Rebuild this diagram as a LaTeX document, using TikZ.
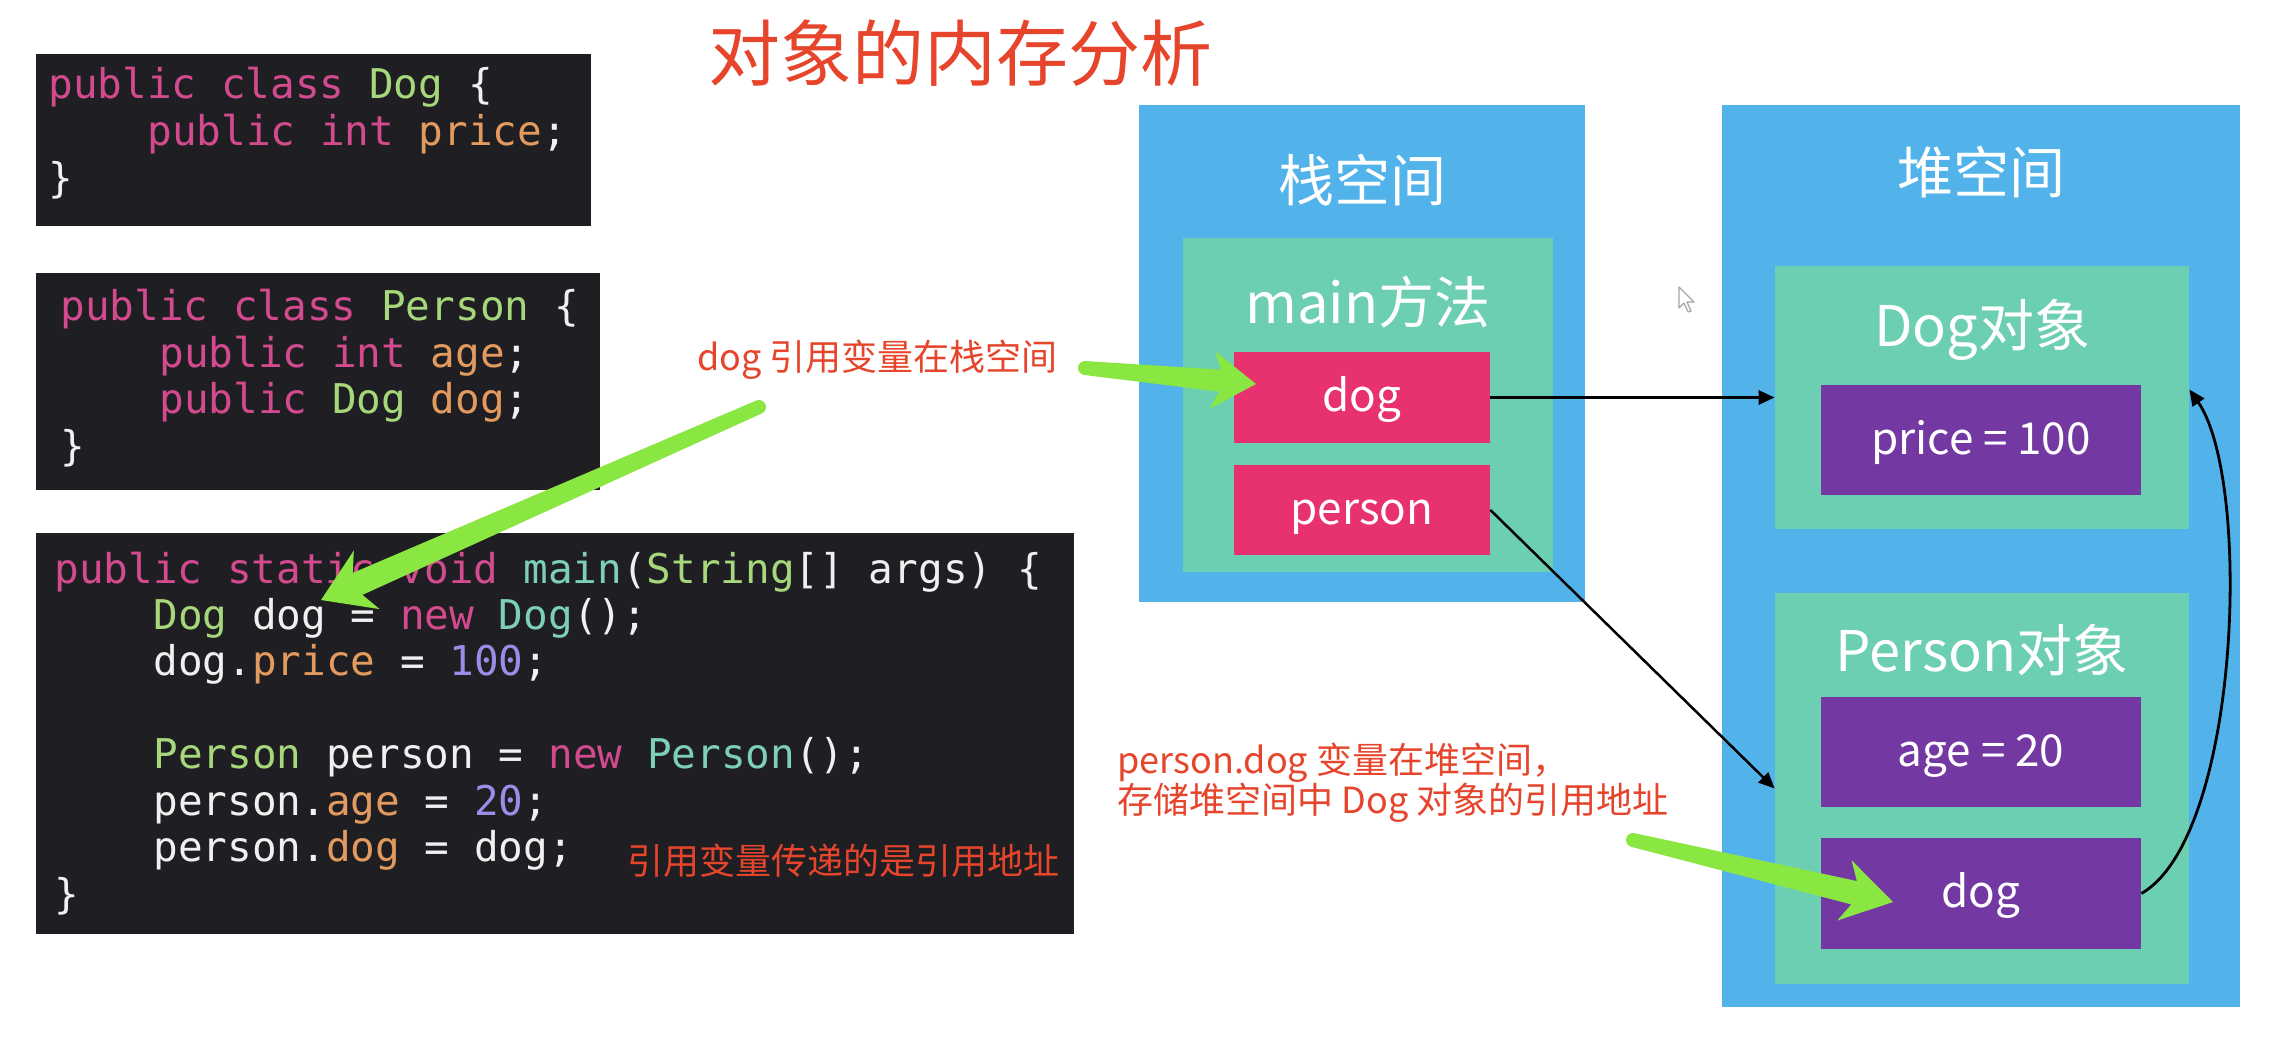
\documentclass[tikz,border=0pt]{standalone}
\usepackage{fontspec}
\usetikzlibrary{calc,arrows.meta}
\setmainfont{Noto Sans CJK SC}
\newfontfamily\cjk{Noto Sans CJK SC}
\newfontfamily\codefont{DejaVu Sans Mono}
\definecolor{cblue}{HTML}{52B3EA}
\definecolor{cgreen}{HTML}{6DCFB2}
\definecolor{cpink}{HTML}{E8316F}
\definecolor{cpurple}{HTML}{7438A3}
\definecolor{cred}{HTML}{E6452C}
\definecolor{cgarrow}{HTML}{8AE640}
\definecolor{ccodebg}{HTML}{1F1F23}
\definecolor{cwhite}{HTML}{F0F0F0}
\definecolor{ckw}{HTML}{D34A8E}
\definecolor{cty}{HTML}{A6D77A}
\definecolor{ctl}{HTML}{7DCFB6}
\definecolor{cfd}{HTML}{E39A5E}
\definecolor{cnm}{HTML}{9C8CE8}
\newcommand\cKw[1]{\textcolor{ckw}{#1}}
\newcommand\cTy[1]{\textcolor{cty}{#1}}
\newcommand\cTl[1]{\textcolor{ctl}{#1}}
\newcommand\cFd[1]{\textcolor{cfd}{#1}}
\newcommand\cNm[1]{\textcolor{cnm}{#1}}
% tapered green arrow: tail, tip, tail half width, neck half width, head length, notch, head half width
\newcommand\garrow[7]{%
  \fill[gfill] let \p1=(#1), \p2=(#2), \n1={atan2(\y2-\y1,\x2-\x1)} in
    ($(#1)+(\n1+90:#3)$)
    -- ($(#2)+(\n1+180:#6)+(\n1+90:#4)$)
    -- ($(#2)+(\n1+180:#5)+(\n1+90:#7)$)
    -- (#2)
    -- ($(#2)+(\n1+180:#5)+(\n1-90:#7)$)
    -- ($(#2)+(\n1+180:#6)+(\n1-90:#4)$)
    -- ($(#1)+(\n1-90:#3)$)
    arc[start angle=\n1-90, end angle=\n1-270, radius=#3] -- cycle;
}
\tikzset{
  box/.style={inner sep=0pt, draw=none},
  itemtxt/.style={text=white, font=\cjk\fontsize{22}{24}\selectfont, text height=1.4em, text depth=0pt},
  ttl/.style={text=white, font=\cjk\fontsize{28}{30}\selectfont, inner sep=0pt},
  codeln/.style={anchor=base west, inner sep=0pt, text=cwhite, font=\codefont\fontsize{20.5}{24}\selectfont},
  redlab/.style={anchor=base west, inner sep=0pt, text=cred, font=\cjk\fontsize{18}{20}\selectfont},
  conn/.style={draw=black, line width=1.5pt, -{Triangle[length=8pt,width=7pt]}},
  gfill/.style={fill=cgarrow},
}
\begin{document}
\begin{tikzpicture}[x=0.5pt, y=-0.5pt]
\path[use as bounding box, fill=white] (0,0) rectangle (2280,1050);

% title
\node[anchor=base, inner sep=0pt, text=cred, font=\cjk\fontsize{36}{40}\selectfont] (title) at (960,80) {对象的内存分析};

% code boxes
\node[box, fill=ccodebg, minimum width=277.5pt, minimum height=86pt] (code1) at (313.5,140) {};
\node[box, fill=ccodebg, minimum width=282pt, minimum height=108.5pt] (code2) at (318,381.5) {};
\node[box, fill=ccodebg, minimum width=519pt, minimum height=200.5pt] (code3) at (555,733.5) {};

\node[codeln] (c1a) at (48,98) {\cKw{public class} \cTy{Dog} \{};
\node[codeln] (c1b) at (147,145) {\cKw{public int} \cFd{price};};
\node[codeln] (c1c) at (48,192) {\}};

\node[codeln] (c2a) at (60,320) {\cKw{public class} \cTy{Person} \{};
\node[codeln] (c2b) at (159,367) {\cKw{public int} \cFd{age};};
\node[codeln] (c2c) at (159,413) {\cKw{public} \cTy{Dog} \cFd{dog};};
\node[codeln] (c2d) at (60,460) {\}};

\node[codeln] (c3a) at (54,583) {\cKw{public static void} \cTl{main}(\cTy{String}[] args) \{};
\node[codeln] (c3b) at (153,629) {\cTy{Dog} dog = \cKw{new} \cTl{Dog}();};
\node[codeln] (c3c) at (153,675) {dog.\cFd{price} = \cNm{100};};
\node[codeln] (c3d) at (153,768) {\cTy{Person} person = \cKw{new} \cTl{Person}();};
\node[codeln] (c3e) at (153,815) {person.\cFd{age} = \cNm{20};};
\node[codeln] (c3f) at (153,861) {person.\cFd{dog} = dog;};
\node[codeln] (c3g) at (54,908) {\}};

% red labels
\node[redlab] (lab1) at (697,370) {dog 引用变量在栈空间};
\node[redlab] (lab2) at (627,874) {引用变量传递的是引用地址};
\node[redlab] (lab3) at (1117,773) {person.dog 变量在堆空间，};
\node[redlab] (lab4) at (1117,813) {存储堆空间中 Dog 对象的引用地址};

% stack
\node[box, fill=cblue, minimum width=223pt, minimum height=248.5pt] (stack) at (1362,353.5) {};
\node[ttl] (stackttl) at (1362,180) {栈空间};
\node[box, fill=cgreen, minimum width=185pt, minimum height=167pt] (mainm) at (1368,405) {};
\node[ttl] (mainttl) at (1368,302) {main方法};
\node[box, fill=cpink, itemtxt, minimum width=128pt, minimum height=45.5pt] (dogvar) at (1362,397.5) {dog};
\node[box, fill=cpink, itemtxt, minimum width=128pt, minimum height=45pt] (personvar) at (1362,510) {person};

% heap
\node[box, fill=cblue, minimum width=259pt, minimum height=451pt] (heap) at (1981,556) {};
\node[ttl] (heapttl) at (1981,172) {堆空间};
\node[box, fill=cgreen, minimum width=207pt, minimum height=131.5pt] (dogobj) at (1982,397.5) {};
\node[ttl] (dogobjttl) at (1982,330) {Dog对象};
\node[box, fill=cpurple, itemtxt, minimum width=160pt, minimum height=55pt] (price) at (1981,440) {price = 100};
\node[box, fill=cgreen, minimum width=207pt, minimum height=195.5pt] (personobj) at (1982,788.5) {};
\node[ttl] (personobjttl) at (1982,650) {Person对象};
\node[box, fill=cpurple, itemtxt, minimum width=160pt, minimum height=55pt] (age) at (1981,752) {age = 20};
\node[box, fill=cpurple, itemtxt, minimum width=160pt, minimum height=55.5pt] (pdog) at (1981,893.5) {dog};

% black connectors
\draw[conn] (dogvar.east) -- (dogobj.west);
\draw[conn, line width=1.25pt] (personvar.east) -- (personobj.west);
\draw[conn, line width=1.4pt] (pdog.east) .. controls +(99,-57) and +(63,91) .. ([yshift=4pt]dogobj.east);

% green arrows
\coordinate (g1t) at (1085,368);
\coordinate (g1h) at (1256,384);
\coordinate (g2t) at (759,407);
\coordinate (g2h) at (321,600);
\coordinate (g3t) at (1633,840);
\coordinate (g3h) at (1893,902);
\garrow{g1t}{g1h}{3.5pt}{5.5pt}{22pt}{18pt}{14.5pt}
\garrow{g2t}{g2h}{3.5pt}{6pt}{25pt}{20pt}{16pt}
\garrow{g3t}{g3h}{3.5pt}{6pt}{25pt}{20pt}{15.5pt}

% mouse cursor
\draw[fill=white, draw=gray!70, line width=0.6pt, line join=round]
  (1679,287) -- (1679,308) -- (1684,303) -- (1688,312) -- (1691,311) -- (1687,302) -- (1694,302) -- cycle;
\end{tikzpicture}
\end{document}
